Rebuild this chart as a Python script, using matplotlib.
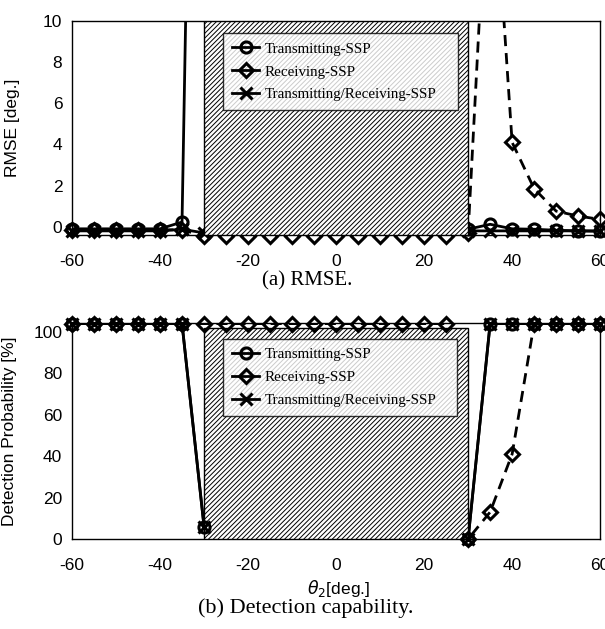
"""
Recreation of the two-panel RMSE / detection-probability figure.
"""

import numpy as np
import matplotlib
matplotlib.use("Agg")
import matplotlib.pyplot as plt
from matplotlib.lines import Line2D
from matplotlib.patches import Rectangle

nan = np.nan

# ── Data ────────────────────────────────────────────────────────────────────
theta = [-60, -55, -50, -45, -40, -35, -30, -25, -20, -15, -10, -5, 0,
         5, 10, 15, 20, 25, 30, 35, 40, 45, 50, 55, 60]

rmse_tx = [-0.1, -0.1, -0.1, -0.1, -0.1, 0.23, 60,
           nan, nan, nan, nan, nan, nan, nan, nan, nan, nan, nan,
           -0.12, 0.12, -0.1, -0.12, -0.17, -0.2, -0.22]
rmse_rx = [-0.15, -0.15, -0.15, -0.15, -0.15, -0.15,
           -0.45, -0.45, -0.45, -0.45, -0.45, -0.45, -0.45, -0.45, -0.45,
           -0.45, -0.45, -0.45,
           -0.3, 20, 4.1, 1.85, 0.76, 0.52, 0.36]
rmse_txrx = [-0.2, -0.2, -0.2, -0.2, -0.2, -0.12, -0.3,
             nan, nan, nan, nan, nan, nan, nan, nan, nan, nan, nan,
             -0.2, -0.2, -0.2, -0.2, -0.2, -0.2, -0.2]

det_tx = [104, 104, 104, 104, 104, 104, 6,
          nan, nan, nan, nan, nan, nan, nan, nan, nan, nan, nan,
          0, 104, 104, 104, 104, 104, 104]
det_rx = [104, 104, 104, 104, 104, 104, 104, 104, 104, 104, 104, 104,
          104, 104, 104, 104, 104, 104,
          0, 13, 41, 104, 104, 104, 104]
det_txrx = [104, 104, 104, 104, 104, 104, 6,
            nan, nan, nan, nan, nan, nan, nan, nan, nan, nan, nan,
            0, 104, 104, 104, 104, 104, 104]

labels = ["Transmitting-SSP", "Receiving-SSP", "Transmitting/Receiving-SSP"]
blocked = (-30, 30)   # hatched sector

SANS = "Liberation Sans"
SERIF = "Liberation Serif"
plt.rcParams["hatch.linewidth"] = 0.7
plt.rcParams["axes.unicode_minus"] = False

_STYLES = [
    dict(marker="o", ls="-"),
    dict(marker="D", ls="--"),
    dict(marker="x", ls="-"),
]


def _ms(mk):
    return {"o": 8, "D": 7, "x": 8}[mk]


def _series(ax, x, y, style, top, mz):
    """Line clipped to the axes, markers drawn only where inside the y-range."""
    y = np.asarray(y, dtype=float)
    ls = style["ls"]
    ax.plot(x, y, color="black", lw=2.0, ls=ls,
            dashes=(4, 2.5) if ls == "--" else (None, None), zorder=2)
    ym = np.where(y > top + 0.5, nan, y)
    mk = style["marker"]
    ax.plot(x, ym, ls="none", marker=mk, ms=_ms(mk),
            mfc="none", mec="black", mew=2.2, zorder=mz, clip_on=False)


def _legend(ax, anchor):
    handles = [Line2D([], [], color="black", lw=2, marker=s["marker"],
                      ms=_ms(s["marker"]), mfc="none", mec="black", mew=2.2)
               for s in _STYLES]
    leg = ax.legend(handles, labels, loc="upper left", bbox_to_anchor=anchor,
                    mode="expand", borderaxespad=0, frameon=True, fancybox=False,
                    handlelength=1.8, handletextpad=0.35, labelspacing=0.62,
                    borderpad=0.6, prop={"family": SERIF, "size": 10.8})
    leg.get_frame().set_edgecolor("black")
    leg.get_frame().set_linewidth(1.0)
    leg.set_zorder(5)


def _setup_ax(ax, ylim, yticks, ylabel):
    ax.set_xlim(-60, 60)
    ax.set_ylim(*ylim)
    ax.set_xticks([-60, -40, -20, 0, 20, 40, 60])
    ax.set_yticks(yticks)
    ax.tick_params(length=0, labelsize=12.5)
    ax.tick_params(axis="x", pad=14)
    ax.tick_params(axis="y", pad=7)
    for lab in ax.get_xticklabels() + ax.get_yticklabels():
        lab.set_family(SANS)
    for sp in ax.spines.values():
        sp.set_linewidth(1.0)
    ax.set_ylabel(ylabel, family=SANS, fontsize=12.5)


fig = plt.figure(figsize=(6.05, 6.29), dpi=100)
ax1 = fig.add_axes([0.119, 0.6264, 0.873, 0.3402])
ax2 = fig.add_axes([0.119, 0.1431, 0.873, 0.3434])

# ── (a) RMSE ────────────────────────────────────────────────────────────────
_setup_ax(ax1, (-0.4, 10), [0, 2, 4, 6, 8, 10], "RMSE [deg.]")
ax1.yaxis.set_label_coords(-0.098, 0.5)
for y, st in zip([rmse_tx, rmse_rx, rmse_txrx], _STYLES):
    _series(ax1, theta, y, st, 10, 2.5)
ax1.add_patch(Rectangle((blocked[0], -0.4), blocked[1] - blocked[0], 10.4,
                        facecolor="white", edgecolor="black", hatch="///////",
                        lw=1.0, zorder=3))
_legend(ax1, (0.286, 0.943, 0.445, 0.0))
fig.text(0.507, 0.553, "(a) RMSE.", family=SERIF, fontsize=15,
         ha="center", va="center")

# ── (b) Detection capability ────────────────────────────────────────────────
_setup_ax(ax2, (0, 104.3), [0, 20, 40, 60, 80, 100],
          "Detection Probability [%]")
ax2.yaxis.set_label_coords(-0.104, 0.5)
for y, st in zip([det_tx, det_rx, det_txrx], _STYLES):
    _series(ax2, theta, y, st, 104.3, 4)
ax2.add_patch(Rectangle((blocked[0], 0), blocked[1] - blocked[0], 102,
                        facecolor="white", edgecolor="black", hatch="///////",
                        lw=1.0, zorder=3))
_legend(ax2, (0.286, 0.926, 0.443, 0.0))
fig.text(0.559, 0.064, r"$\theta_2$[deg.]", family=SANS, fontsize=12.5,
         ha="center", va="center")
fig.text(0.506, 0.033, "(b) Detection capability.", family=SERIF,
         fontsize=16, ha="center", va="center")

fig.savefig("out.png", dpi=100, facecolor="white")
